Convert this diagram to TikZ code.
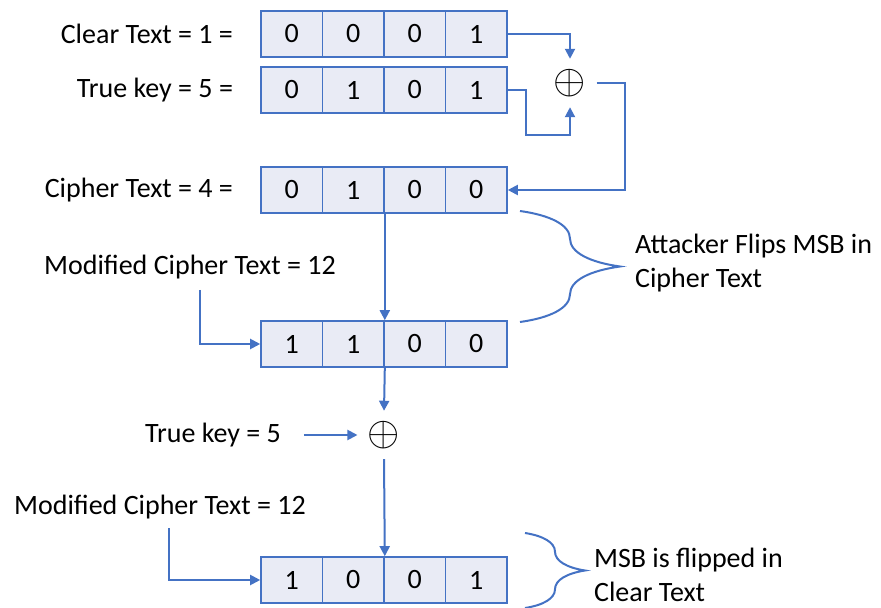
\documentclass[tikz,border=0pt]{standalone}
\usepackage{fontspec}
\setmainfont{Carlito}
\usetikzlibrary{arrows.meta, positioning, calc, decorations.pathreplacing}
\definecolor{boxblue}{HTML}{4472C4}
\definecolor{cellfill}{HTML}{E9EBF5}

\begin{document}
\begin{tikzpicture}[x=0.5pt, y=-0.5pt, font=\fontsize{14}{17}\selectfont,
  cell/.style={draw=boxblue, fill=cellfill, line width=0.8pt, minimum width=30.75pt, minimum height=23pt, inner sep=0pt},
  link/.style={draw=boxblue, line width=1pt, -{Triangle[length=5pt,width=5pt]}},
  xorop/.style={inner sep=5pt, font=\fontsize{22}{22}\selectfont},
  bracket/.style={draw=boxblue, line width=1pt, decorate, decoration={brace, amplitude=#1}}]
\useasboundingbox (0,0) rectangle (881,608);

% Registers
\foreach \b [count=\i] in {0,0,0,1}
  \node[cell] (a\i) at (230.25+61.5*\i,34) {\b};
\foreach \b [count=\i] in {0,1,0,1}
  \node[cell] (b\i) at (230.25+61.5*\i,90) {\b};
\foreach \b [count=\i] in {0,1,0,0}
  \node[cell] (c\i) at (230.25+61.5*\i,190) {\b};
\foreach \b [count=\i] in {1,1,0,0}
  \node[cell] (d\i) at (230.25+61.5*\i,344) {\b};
\foreach \b [count=\i] in {1,0,0,1}
  \node[cell] (e\i) at (230.25+61.5*\i,580) {\b};

% Labels
\node[left] (clear) at (240,34) {Clear Text = 1 =};
\node[left] (key) at (240,90) {True key = 5 =};
\node[left] (cipher) at (240,190) {Cipher Text = 4 =};
\node (mod1) at (190,267) {Modified Cipher Text = 12};
\node (key2) at (213,435) {True key = 5};
\node (mod2) at (160,507) {Modified Cipher Text = 12};

% XOR operators
\node[xorop] (x1) at (570,83) {$\oplus$};
\node[xorop] (x2) at (384,435) {$\oplus$};

% Encryption
\coordinate (kb) at (526,135);
\coordinate (kc) at (625,190);
\draw[link] (a4.east) -| (x1.north);
\draw[link] (b4.east) -| (kb) -| (x1.south);
\draw[link] (x1.east) -| (kc) -- (c4.east);

% Attack
\coordinate (ma) at (200,290);
\draw[link] (c2.south east) -- (d2.north east);
\draw[link] (ma) |- (d1.west);
\draw[bracket=50pt] (520,211) -- (520,322);
\node[right, align=left] (flip) at (628,263) {Attacker Flips MSB in\\Cipher Text};

% Decryption
\coordinate (mb) at (169,528);
\draw[link] (d2.south east) -- (x2.north);
\draw[link, shorten <=8pt] (key2.east) -- (x2.west);
\draw[link] (x2.south) -- (e2.north east);
\draw[link] (mb) |- (e1.west);
\draw[bracket=30pt] (525,533) -- (525,608);
\node[right, align=left] (msb) at (587,575) {MSB is flipped in\\Clear Text};
\end{tikzpicture}
\end{document}
